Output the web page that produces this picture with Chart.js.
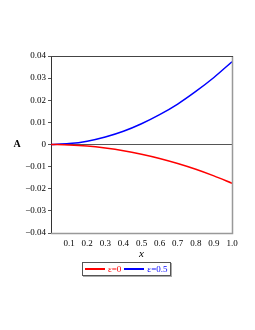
<!DOCTYPE html>
<html>
<head>
<meta charset="utf-8">
<script src="https://cdn.jsdelivr.net/npm/chart.js@4.4.1/dist/chart.umd.min.js"></script>
<style>
  html, body { margin: 0; padding: 0; background: #fff; }
  #wrap { position: relative; width: 255px; height: 330px; }
  #legend {
    position: absolute; left: 82px; top: 262px; height: 12px;
    border: 1px solid #555; box-shadow: 1px 1px 0 #aaa;
    display: flex; align-items: center; padding: 0 1px 0 1px;
    font: 9px "Liberation Serif", serif; white-space: nowrap;
  }
  #legend .ln { display: inline-block; width: 20px; height: 2px; margin-right: 3px; }
</style>
</head>
<body>
<div id="wrap">
  <canvas id="myChart" width="255" height="330"></canvas>
  <div id="legend"></div>
</div>
<script>
// x positions and the two curves
const xs = [0, 0.1, 0.2, 0.3, 0.4, 0.5, 0.6, 0.7, 0.8, 0.9, 1.0];
const eps0 = [0, -0.0002, -0.0007, -0.0016, -0.0028, -0.0044, -0.0063, -0.0086, -0.0112, -0.0142, -0.0175];
const eps05 = [0, 0.0004, 0.0015, 0.0034, 0.006, 0.0094, 0.0135, 0.0183, 0.024, 0.0303, 0.0374];
const seriesLabels = ['ε=0', 'ε=0.5'];

// tick values and labels
const xTicks = [0.1, 0.2, 0.3, 0.4, 0.5, 0.6, 0.7, 0.8, 0.9, 1.0];
const xTickLabels = ['0.1', '0.2', '0.3', '0.4', '0.5', '0.6', '0.7', '0.8', '0.9', '1.0'];
const yTicks = [-0.04, -0.03, -0.02, -0.01, 0, 0.01, 0.02, 0.03, 0.04];
const yTickLabels = ['\u22120.04', '\u22120.03', '\u22120.02', '\u22120.01', '0', '0.01', '0.02', '0.03', '0.04'];

const FONT = '"Liberation Serif", "Times New Roman", serif';

// frame + axis titles
const frame = {
    id: 'frame',
    afterDraw(chart) {
        const {ctx, chartArea: a} = chart;
        ctx.save();
        ctx.strokeStyle = '#999';
        ctx.lineWidth = 1.5;
        ctx.beginPath();
        ctx.moveTo(a.right + 0.5, a.top);
        ctx.lineTo(a.right + 0.5, a.bottom + 0.5);
        ctx.lineTo(a.left, a.bottom + 0.5);
        ctx.stroke();
        ctx.strokeStyle = '#444';
        ctx.lineWidth = 1;
        ctx.beginPath();
        ctx.moveTo(a.left, a.top + 0.5);
        ctx.lineTo(a.right + 1, a.top + 0.5);
        ctx.stroke();
        ctx.fillStyle = '#000';
        ctx.textAlign = 'center';
        ctx.textBaseline = 'middle';
        ctx.font = 'italic 11px ' + FONT;
        ctx.fillText('x', (a.left + a.right) / 2, 254);
        ctx.font = 'bold 10px ' + FONT;
        ctx.fillText('A', 17, chart.scales.y.getPixelForValue(0));
        ctx.restore();
    }
};

const data = {
    datasets: [{
        label: seriesLabels[0],
        data: xs.map((x, i) => ({x: x, y: eps0[i]})),
        borderColor: '#ff0000',
    },
    {
        label: seriesLabels[1],
        data: xs.map((x, i) => ({x: x, y: eps05[i]})),
        borderColor: '#0000ff',
    }]
};

const options = {
    animation: false,
    responsive: false,
    layout: { padding: { left: 0, top: 56, right: 23, bottom: 0 } },
    elements: {
        point: { radius: 0 },
        line: { borderWidth: 1.5, cubicInterpolationMode: 'monotone' }
    },
    scales: {
        x: {
            type: 'linear',
            min: 0,
            max: 1,
            afterFit: (s) => { s.height = 97; },
            afterBuildTicks: (s) => { s.ticks = xTicks.map(v => ({value: v})); },
            border: { display: false },
            grid: { display: false, tickLength: 0 },
            ticks: {
                color: '#000',
                font: { family: FONT, size: 9 },
                padding: 5,
                maxRotation: 0,
                callback: (v, i) => xTickLabels[i]
            }
        },
        y: {
            min: -0.04,
            max: 0.04,
            afterFit: (s) => { s.width = 51; },
            afterBuildTicks: (s) => { s.ticks = yTicks.map(v => ({value: v})); },
            border: { color: '#333', width: 1 },
            grid: {
                color: (c) => c.tick && c.tick.value === 0 ? '#555' : 'rgba(0,0,0,0)',
                tickColor: '#555',
                tickLength: 3
            },
            ticks: {
                color: '#000',
                font: { family: FONT, size: 9 },
                padding: 2,
                callback: (v, i) => yTickLabels[i]
            }
        }
    },
    plugins: {
        legend: { display: false },
        tooltip: { enabled: false }
    }
};

const ctx = document.getElementById('myChart');
const myChart = new Chart(ctx, {
    type: 'line',
    data,
    options,
    plugins: [frame]
});

// html legend
const legend = document.getElementById('legend');
myChart.data.datasets.forEach((ds) => {
    let line = document.createElement('span');
    line.className = 'ln';
    line.style.backgroundColor = ds.borderColor;
    line.style.marginLeft = '1px';
    let label = document.createElement('span');
    label.textContent = ds.label;
    label.style.color = ds.borderColor;
    label.style.marginRight = '2px';
    legend.appendChild(line);
    legend.appendChild(label);
});
</script>
</body>
</html>
